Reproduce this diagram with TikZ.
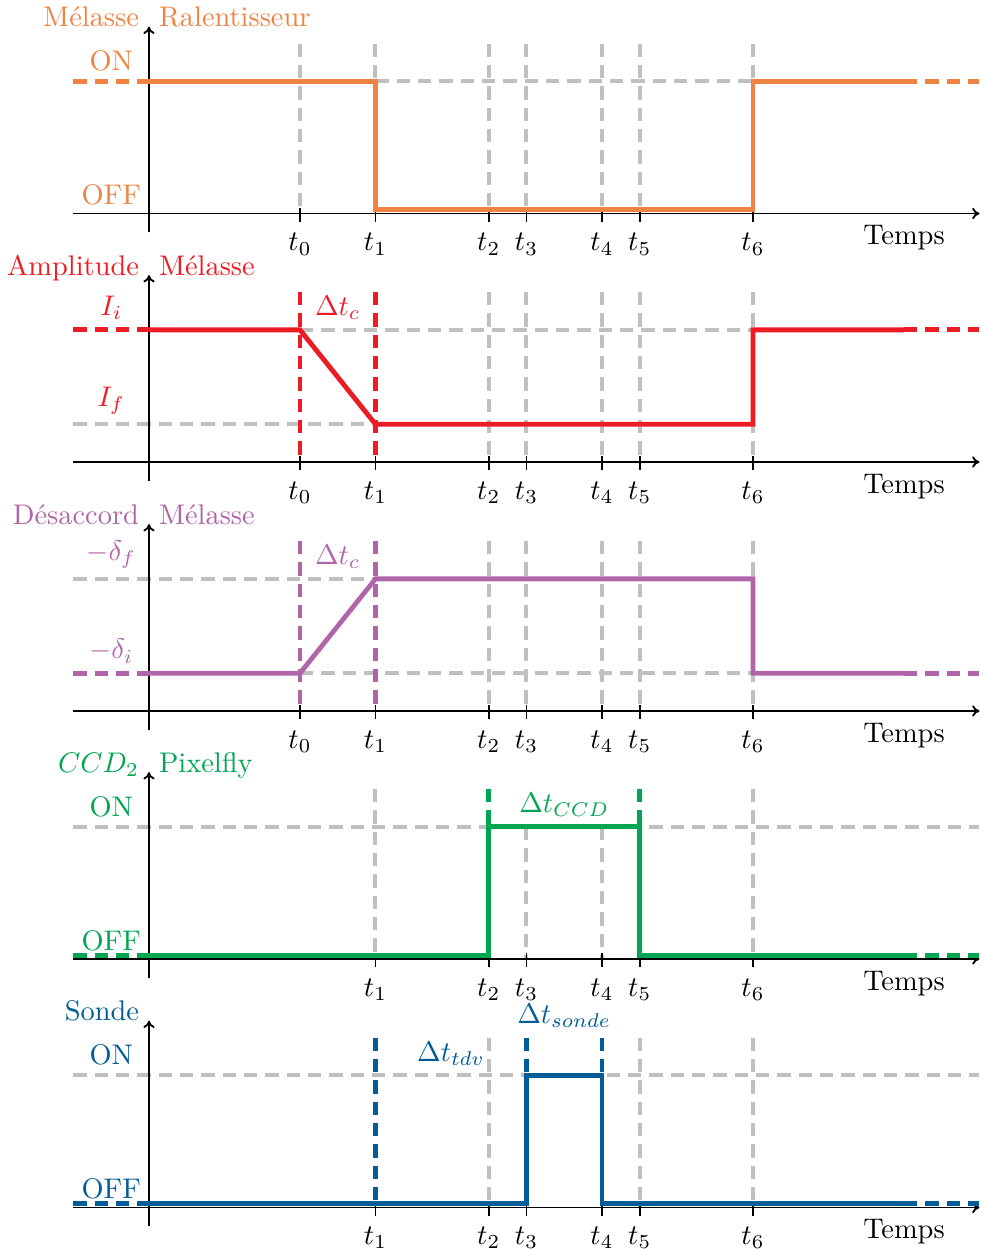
\documentclass[tikz,border=0pt]{standalone}
\usetikzlibrary{arrows.meta}
\definecolor{cor}{RGB}{241,131,66}
\definecolor{cre}{RGB}{237,28,36}
\definecolor{cpu}{RGB}{177,101,169}
\definecolor{cgr}{RGB}{0,166,81}
\definecolor{cbl}{RGB}{0,93,151}
\definecolor{gry}{RGB}{192,192,192}
\newcommand{\myaxes}[2]{%
  \draw[axl,-{To[length=5.5pt,width=8.5pt]}] (-2,0) -- (22,0);
  \draw[axl,-{To[length=5.5pt,width=8.5pt]}] (0,-0.5) -- (0,4.95);
  \foreach \k in {#2} {
    \draw[axl] (\TT{\k},0.15) -- (\TT{\k},-0.22) node[below,lab] (#1t\k) {$t_{\k}$};
  }
  \node[lab,below] (#1temps) at (20,-0.05) {Temps};
}
\newcommand{\TT}[1]{\ifcase#1 4\or 6\or 9\or 10\or 12\or 13\or 16\fi}
\begin{document}
\begin{tikzpicture}[x=28.3125pt,y=28.3125pt,
  gr/.style={draw=gry,line width=3pt,dash pattern=on 10pt off 6pt},
  sig/.style={line width=3.6pt},
  sigd/.style={line width=3.6pt,dash pattern=on 10pt off 6pt},
  axl/.style={line width=1.4pt},
  lab/.style={scale=2.13,transform shape}]
\useasboundingbox (-3.947,-33.113) rectangle (22.04,0);

% ---------------- Panel 1 : Melasse Ralentisseur
\begin{scope}[shift={(0,-5.656)}]
  \foreach \x in {4,6,9,10,12,13,16} \draw[gr] (\x,4.5) -- (\x,0);
  \draw[gr] (6,3.5) -- (16,3.5);
  \myaxes{a}{0,1,2,3,4,5,6}
  \draw[sigd,cor] (-2,3.5) -- (0,3.5);
  \draw[sig,cor] (0,3.5) -- (6,3.5) -- (6,0.1) -- (16,0.1) -- (16,3.5) -- (20,3.5);
  \draw[sigd,cor] (20,3.5) -- (22,3.5);
  \node[lab,cor,anchor=base east] (a1) at (0,4.95) {Mélasse};
  \node[lab,cor,anchor=base west] (a2) at (0,4.95) {Ralentisseur};
  \node[lab,cor,above] (aon) at (-1,3.5) {ON};
  \node[lab,cor,above] (aoff) at (-1,-0.05) {OFF};
\end{scope}

% ---------------- Panel 2 : Amplitude Melasse
\begin{scope}[shift={(0,-12.238)}]
  \foreach \x in {9,10,12,13,16} \draw[gr] (\x,4.5) -- (\x,0);
  \draw[gr] (4,3.5) -- (16,3.5);
  \draw[gr] (-2,1) -- (6,1);
  \foreach \x in {4,6} \draw[sigd,cre] (\x,4.5) -- (\x,0);
  \myaxes{b}{0,1,2,3,4,5,6}
  \draw[sigd,cre] (-2,3.5) -- (0,3.5);
  \draw[sig,cre] (0,3.5) -- (4,3.5) -- (6,1) -- (16,1) -- (16,3.5) -- (20,3.5);
  \draw[sigd,cre] (20,3.5) -- (22,3.5);
  \node[lab,cre,anchor=base east] (b1) at (0,4.95) {Amplitude};
  \node[lab,cre,anchor=base west] (b2) at (0,4.95) {Mélasse};
  \node[lab,cre,above] (bii) at (-1,3.5) {$I_i$};
  \node[lab,cre,above] (bif) at (-1,1) {$I_f$};
  \node[lab,cre,above] (bdt) at (5,3.5) {$\Delta t_c$};
\end{scope}

% ---------------- Panel 3 : Desaccord Melasse
\begin{scope}[shift={(0,-18.834)}]
  \foreach \x in {9,10,12,13,16} \draw[gr] (\x,4.5) -- (\x,0);
  \draw[gr] (-2,3.5) -- (6,3.5);
  \draw[gr] (4,1) -- (16,1);
  \foreach \x in {4,6} \draw[sigd,cpu] (\x,4.5) -- (\x,0);
  \myaxes{c}{0,1,2,3,4,5,6}
  \draw[sigd,cpu] (-2,1) -- (0,1);
  \draw[sig,cpu] (0,1) -- (4,1) -- (6,3.5) -- (16,3.5) -- (16,1) -- (20,1);
  \draw[sigd,cpu] (20,1) -- (22,1);
  \node[lab,cpu,anchor=base east] (c1) at (0,4.95) {Désaccord};
  \node[lab,cpu,anchor=base west] (c2) at (0,4.95) {Mélasse};
  \node[lab,cpu,above] (cdf) at (-1,3.5) {$-\delta_f$};
  \node[lab,cpu,above] (cdi) at (-1,1) {$-\delta_i$};
  \node[lab,cpu,above] (cdt) at (5,3.5) {$\Delta t_c$};
\end{scope}

% ---------------- Panel 4 : CCD2 Pixelfly
\begin{scope}[shift={(0,-25.404)}]
  \foreach \x in {6,16} \draw[gr] (\x,4.5) -- (\x,0);
  \foreach \x in {10,12} \draw[gr] (\x,3.5) -- (\x,0);
  \draw[gr] (-2,3.5) -- (22,3.5);
  \foreach \x in {9,13} \draw[sigd,cgr] (\x,4.5) -- (\x,0);
  \myaxes{d}{1,2,3,4,5,6}
  \draw[sigd,cgr] (-2,0.1) -- (0,0.1);
  \draw[sig,cgr] (0,0.1) -- (9,0.1) -- (9,3.5) -- (13,3.5) -- (13,0.1) -- (20,0.1);
  \draw[sigd,cgr] (20,0.1) -- (22,0.1);
  \node[lab,cgr,anchor=base east] (d1) at (0,4.95) {$CCD_2$};
  \node[lab,cgr,anchor=base west] (d2) at (0,4.95) {Pixelfly};
  \node[lab,cgr,above] (don) at (-1,3.5) {ON};
  \node[lab,cgr,above] (doff) at (-1,-0.05) {OFF};
  \node[lab,cgr,above] (ddt) at (11,3.5) {$\Delta t_{CCD}$};
\end{scope}

% ---------------- Panel 5 : Sonde
\begin{scope}[shift={(0,-31.987)}]
  \foreach \x in {9,13,16} \draw[gr] (\x,4.5) -- (\x,0);
  \draw[gr] (-2,3.5) -- (22,3.5);
  \foreach \x in {6,10,12} \draw[sigd,cbl] (\x,4.5) -- (\x,0);
  \myaxes{e}{1,2,3,4,5,6}
  \draw[sigd,cbl] (-2,0.1) -- (0,0.1);
  \draw[sig,cbl] (0,0.1) -- (10,0.1) -- (10,3.5) -- (12,3.5) -- (12,0.1) -- (20,0.1);
  \draw[sigd,cbl] (20,0.1) -- (22,0.1);
  \node[lab,cbl,anchor=base east] (e1) at (0,4.95) {Sonde};
  \node[lab,cbl,above] (eon) at (-1,3.5) {ON};
  \node[lab,cbl,above] (eoff) at (-1,-0.05) {OFF};
  \node[lab,cbl,above] (etdv) at (8,3.5) {$\Delta t_{tdv}$};
  \node[lab,cbl,above] (eson) at (11,4.5) {$\Delta t_{sonde}$};
\end{scope}
\end{tikzpicture}
\end{document}
